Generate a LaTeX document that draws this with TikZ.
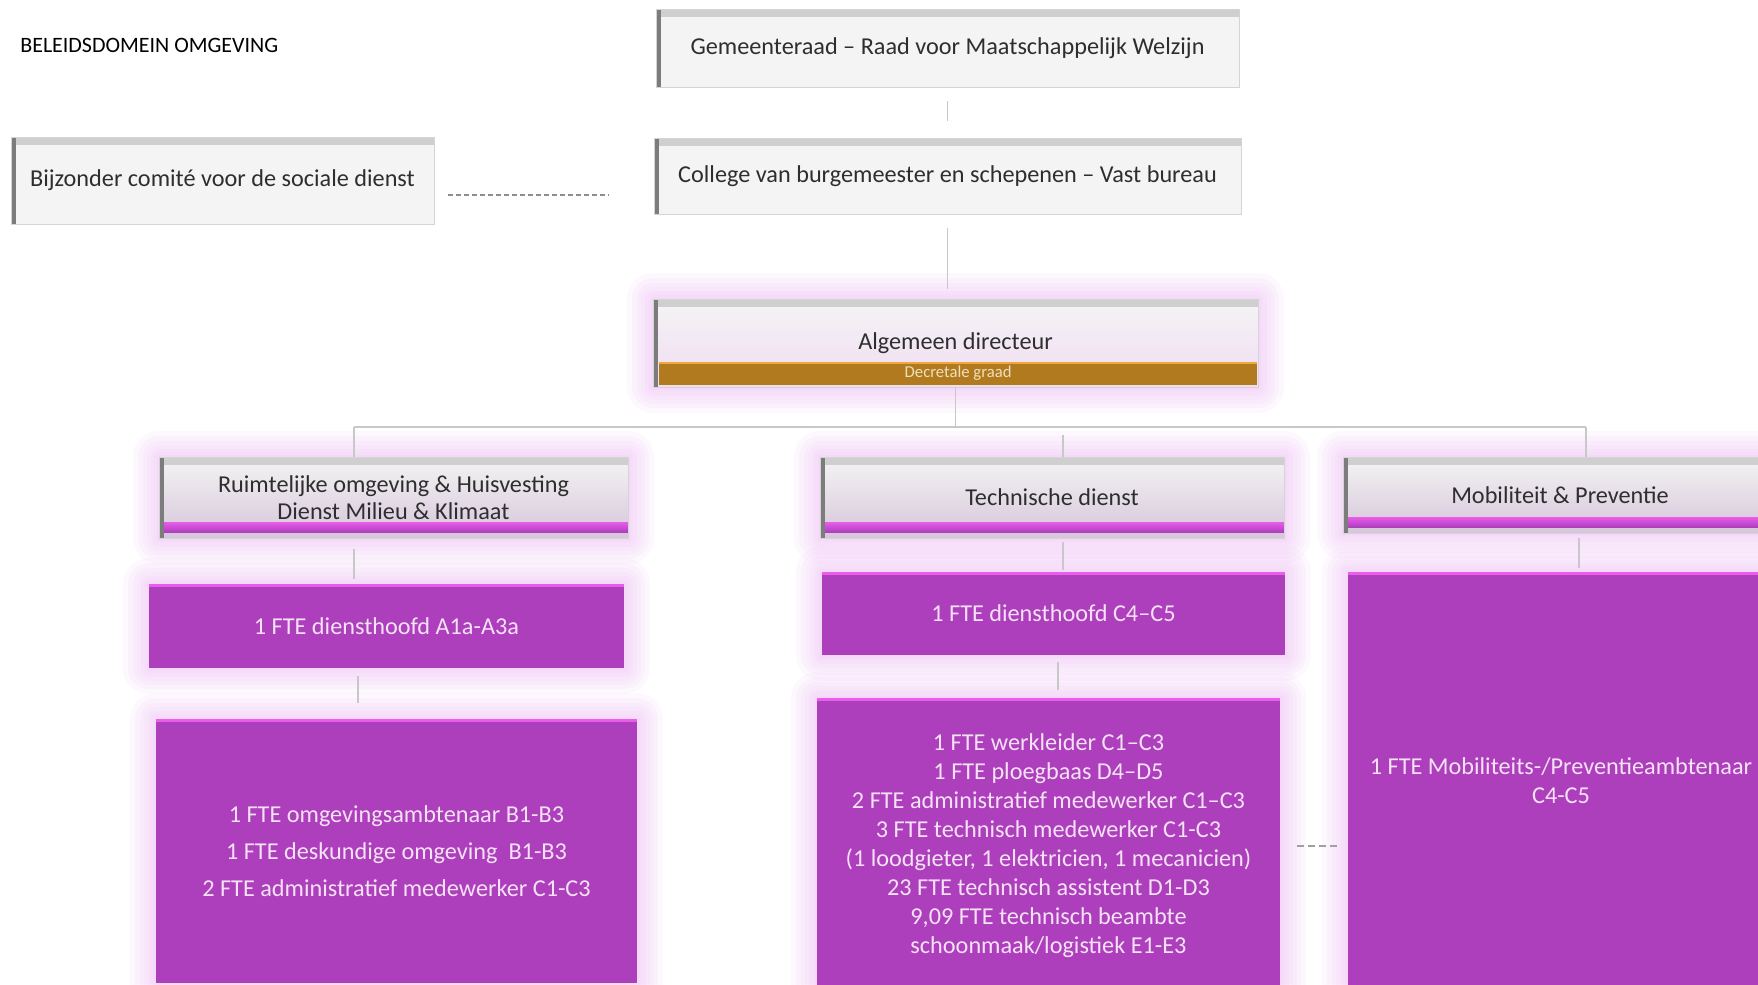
\documentclass[tikz,border=0pt]{standalone}
\usepackage{fontspec}
\setmainfont{Carlito}
\usetikzlibrary{positioning,calc}

\newlength\pxu
\setlength\pxu{0.02cm}

\definecolor{boxgray}{HTML}{F4F4F4}
\definecolor{edgegray}{HTML}{D4D4D4}
\definecolor{bevtop}{HTML}{CFCFCF}
\definecolor{bevleft}{HTML}{7C7C7C}
\definecolor{txtgray}{HTML}{2E2E2E}
\definecolor{linegray}{HTML}{C8C8C8}
\definecolor{dashgray}{HTML}{8C8C8C}
\definecolor{purple1}{HTML}{AD3FBD}
\definecolor{pinkedge}{HTML}{EA5CEA}
\definecolor{pinktxt}{HTML}{F6E2F6}
\definecolor{glowpink}{HTML}{F1C0F6}
\definecolor{unitbot}{HTML}{D6C6DA}
\definecolor{algbot}{HTML}{F0DCF3}
\definecolor{gradebar}{HTML}{B17A1F}
\definecolor{gradetop}{HTML}{F0A83C}
\definecolor{gradetxt}{HTML}{EFDFBC}

\begin{document}
\begin{tikzpicture}[x=\pxu, y=-\pxu,
    conn/.style={draw=linegray, line width=0.8pt},
    dashconn/.style={draw=dashgray, line width=0.7pt, dash pattern=on 5\pxu off 3\pxu},
    glowring/.style={preaction={draw=glowpink, line width=#1\pxu, draw opacity=0.11, line join=round}},
    glow/.style={glowring=52, glowring=42, glowring=33, glowring=25, glowring=17, glowring=10, glowring=5},
    topbox/.style={draw=edgegray, line width=0.5pt, fill=boxgray, text=txtgray,
      font=\fontsize{13.8}{16}\selectfont, inner sep=0pt, align=center,
      path picture={
        \fill[bevtop] (path picture bounding box.north west) rectangle ([yshift=-8\pxu]path picture bounding box.north east);
        \fill[bevleft] (path picture bounding box.north west) rectangle ([xshift=5\pxu]path picture bounding box.south west);}},
    algbox/.style={glow, draw=edgegray, line width=0.5pt, top color=boxgray, bottom color=algbot,
      text=txtgray, font=\fontsize{13.8}{16}\selectfont, inner sep=0pt, align=center,
      path picture={
        \fill[bevtop] (path picture bounding box.north west) rectangle ([yshift=-8\pxu]path picture bounding box.north east);
        \fill[bevleft] (path picture bounding box.north west) rectangle ([xshift=5\pxu]path picture bounding box.south west);}},
    gradestrip/.style={fill=gradebar, text=gradetxt, inner sep=0pt,
      font=\fontsize{9.5}{11}\selectfont,
      path picture={
        \fill[gradetop] (path picture bounding box.north west) rectangle ([yshift=-2\pxu]path picture bounding box.north east);}},
    unitbox/.style={glow, draw=edgegray, line width=0.5pt, top color=boxgray, bottom color=unitbot,
      text=txtgray, font=\fontsize{13.8}{15.5}\selectfont, inner sep=0pt, align=center,
      path picture={
        \fill[bevtop] (path picture bounding box.north west) rectangle ([yshift=-8\pxu]path picture bounding box.north east);
        \fill[bevleft] (path picture bounding box.north west) rectangle ([xshift=5\pxu]path picture bounding box.south west);
        \shade[top color=pinkedge, bottom color=purple1]
          ([xshift=5\pxu, yshift=6\pxu]path picture bounding box.south west) rectangle ([yshift=16\pxu]path picture bounding box.south east);}},
    staffbox/.style={glow, fill=purple1, text=pinktxt, inner sep=0pt, align=center,
      font=\fontsize{13.8}{16.5}\selectfont,
      path picture={
        \fill[pinkedge] (path picture bounding box.north west) rectangle ([yshift=-3\pxu]path picture bounding box.north east);}}]

  \path[use as bounding box] (0,0) rectangle (1758,984);
  \clip (0,0) rectangle (1758,984);
  \fill[white] (0,0) rectangle (1758,984);

  % top levels
  \node[anchor=west, text=black, inner sep=0pt, font=\fontsize{12.5}{14}\selectfont] (title) at (20,45) {BELEIDSDOMEIN OMGEVING};
  \node[topbox, minimum width=583\pxu, minimum height=78\pxu] (gem) at (947.5,48) {Gemeenteraad – Raad voor Maatschappelijk Welzijn};
  \node[topbox, minimum width=587\pxu, minimum height=76\pxu] (col) at (947.5,176) {College van burgemeester en schepenen – Vast bureau};
  \node[topbox, minimum width=423\pxu, minimum height=87\pxu] (bijz) at (222.5,180.5) {Bijzonder comité voor de sociale dienst};

  \node[algbox, minimum width=605\pxu, minimum height=88\pxu] (alg) at (955.5,343) {Algemeen directeur};
  \node[gradestrip, minimum width=598\pxu, minimum height=23\pxu, anchor=south east] (grade) at ([shift={(-1,-2)}]alg.south east) {Decretale graad};

  % diensten
  \node[unitbox, minimum width=469\pxu, minimum height=81\pxu] (ruim) at (393.5,497.5) {Ruimtelijke omgeving \& Huisvesting\\Dienst Milieu \& Klimaat};
  \node[unitbox, minimum width=464\pxu, minimum height=81\pxu] (tech) at (1052,497.5) {Technische dienst};
  \node[unitbox, minimum width=434\pxu, minimum height=76\pxu] (mob) at (1560,495) {Mobiliteit \& Preventie};

  % personeel
  \node[staffbox, minimum width=475\pxu, minimum height=84\pxu] (hoofdro) at (386.5,626) {1 FTE diensthoofd A1a-A3a};
  \node[staffbox, minimum width=481\pxu, minimum height=264\pxu, font=\fontsize{13.8}{21}\selectfont] (teamro) at (396.5,851)
    {1 FTE omgevingsambtenaar B1-B3\\1 FTE deskundige omgeving~ B1-B3\\2 FTE administratief medewerker C1-C3};
  \node[staffbox, minimum width=463\pxu, minimum height=83\pxu] (hoofdtd) at (1053.5,613.5) {1 FTE diensthoofd C4–C5};
  \node[staffbox, minimum width=463\pxu, minimum height=296\pxu] (teamtd) at (1048.5,846)
    {1 FTE werkleider C1–C3\\1 FTE ploegbaas D4–D5\\2 FTE administratief medewerker C1–C3\\3 FTE technisch medewerker C1-C3\\(1 loodgieter, 1 elektricien, 1 mecanicien)\\23 FTE technisch assistent D1-D3\\9,09 FTE technisch beambte\\schoonmaak/logistiek E1-E3};
  \node[staffbox, minimum width=426\pxu, minimum height=418\pxu] (teammob) at (1561,781) {1 FTE Mobiliteits-/Preventieambtenaar\\C4-C5};

  % verbindingen
  \coordinate (busl) at (354,427);
  \coordinate (busr) at (1586,427);
  \coordinate (dashl) at ([yshift=-14.5\pxu]bijz.east);
  \draw[conn, shorten <=14\pxu, shorten >=17\pxu] (gem.south) -- (gem.south |- col.north);
  \draw[conn, shorten <=14\pxu, shorten >=10\pxu] (col.south) -- (col.south |- alg.north);
  \draw[conn] (alg.south) -- (alg.south |- busl);
  \draw[conn] (busl) -- (busr);
  \draw[conn] (busl) -- (busl |- ruim.north);
  \draw[conn, shorten <=8\pxu] ([xshift=11\pxu]tech.north |- busl) -- ([xshift=11\pxu]tech.north);
  \draw[conn] (busr) -- (busr |- mob.north);
  \draw[conn, shorten <=11\pxu, shorten >=5\pxu] (busl |- ruim.south) -- (busl |- hoofdro.north);
  \draw[conn, shorten <=8\pxu, shorten >=16\pxu] ([xshift=4\pxu]busl |- hoofdro.south) -- ([xshift=4\pxu]busl |- teamro.north);
  \draw[conn, shorten <=4\pxu, shorten >=2\pxu] ([xshift=11\pxu]tech.south) -- ([xshift=11\pxu]tech.south |- hoofdtd.north);
  \draw[conn, shorten <=7\pxu, shorten >=8\pxu] ([xshift=6\pxu]tech.south |- hoofdtd.south) -- ([xshift=6\pxu]tech.south |- teamtd.north);
  \draw[conn, shorten <=5\pxu, shorten >=4\pxu] ([xshift=19\pxu]mob.south) -- ([xshift=19\pxu]mob.south |- teammob.north);
  \draw[dashconn, shorten <=14\pxu, shorten >=45\pxu] (dashl) -- (dashl -| col.west);
  \draw[dashconn, line width=1.2pt, dash pattern=on 7\pxu off 4\pxu, draw=linegray!80!black, shorten <=17\pxu, shorten >=10\pxu] (teamtd.east) -- (teamtd.east -| teammob.west);
\end{tikzpicture}
\end{document}
